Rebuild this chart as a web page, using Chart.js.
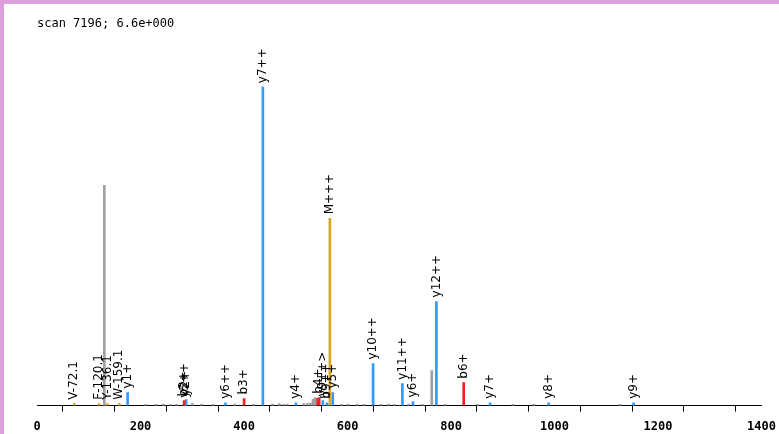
<!DOCTYPE html>
<html>
<head>
<meta charset="utf-8">
<script src="https://cdn.jsdelivr.net/npm/chart.js@4.4.1/dist/chart.umd.min.js"></script>
<style>
  html, body { margin: 0; padding: 0; background: #fff; }
  body {
    width: 779px; height: 434px; overflow: hidden; box-sizing: border-box;
    border-top: 4px solid #dda0dd; border-left: 4px solid #dda0dd;
  }
  #wrap { width: 780px; height: 430px; position: relative; }
</style>
</head>
<body>
<div id="wrap"><canvas id="spectrum"></canvas></div>
<script>
// peaks, m/z and relative intensity (y7++ = 100)
const yIonMz = [175.1, 286.2, 288.2, 364.2, 436.4, 500.3, 552.3, 560.3, 571.5, 649.4, 706.0, 726.4, 771.7, 875.5, 988.6, 1152.7];
const yIonInt = [4.1, 1.2, 1.9, 0.9, 100, 0.9, 1.6, 0.9, 4.1, 13.2, 6.9, 1.3, 32.7, 0.9, 0.9, 0.9];
const yIonLabels = ['y1+', 'y5++', 'y2+', 'y6++', 'y7++', 'y4+', 'y9++>', 'b9++', 'y5+', 'y10++', 'y11++', 'y6+', 'y12++', 'y7+', 'y8+', 'y9+'];

const bIonMz = [284.2, 400.2, 540.3, 545.3, 824.5];
const bIonInt = [1.6, 2.2, 2.3, 2.5, 7.2];
const bIonLabels = ['b2+', 'b3+', '', 'b4+', 'b6+'];

const precursorMz = [565.9];
const precursorInt = [58.8];
const precursorLabels = ['M+++'];

const immoniumMz = [72.1, 120.1, 136.1, 159.1];
const immoniumInt = [0.6, 0.6, 0.6, 0.6];
const immoniumLabels = ['V-72.1', 'F-120.1', 'Y-136.1', 'W-159.1'];

const otherMz = [130.1, 210.1, 230.2, 244.1, 258.2, 270.1, 300.2, 318.2, 340.2, 382.2, 418.2, 455.3, 468.2, 476.3, 483.2, 515.3, 522.3, 528.3, 533.3, 537.3, 588.3, 601.3, 618.3, 632.3, 664.4, 679.4, 690.4, 718.4, 744.4, 762.7, 788.4, 851.5, 919.5, 960.5, 1126.6];
const otherInt = [69.2, 0.4, 0.4, 0.5, 0.4, 0.4, 0.6, 0.5, 0.4, 0.5, 0.4, 0.5, 0.6, 0.4, 0.5, 0.6, 0.7, 0.8, 2.0, 2.5, 0.4, 0.5, 0.5, 0.4, 0.4, 0.5, 0.4, 0.5, 0.4, 11.0, 0.4, 0.4, 0.4, 0.4, 0.4];

const xTicksMax = 1400;
const scanTitle = 'scan 7196; 6.6e+000';

function peaks(mz, inten) {
    return mz.map((m, i) => ({ x: m, y: inten[i] }));
}

function peakSet(mz, inten, labels, color) {
    return {
        data: peaks(mz, inten),
        peakLabels: labels,
        backgroundColor: color,
        borderWidth: 0,
        barThickness: 2,
        grouped: false
    };
}

const peakLabelPlugin = {
    id: 'peakLabels',
    afterDatasetsDraw(chart) {
        const ctx = chart.ctx;
        ctx.save();
        ctx.font = '12px "DejaVu Sans"';
        ctx.fillStyle = '#000';
        ctx.textAlign = 'left';
        ctx.textBaseline = 'middle';
        chart.data.datasets.forEach((ds, i) => {
            if (!ds.peakLabels) return;
            chart.getDatasetMeta(i).data.forEach((bar, j) => {
                const txt = ds.peakLabels[j];
                if (!txt) return;
                ctx.save();
                ctx.translate(bar.x, bar.y - 4);
                ctx.rotate(-Math.PI / 2);
                ctx.fillText(txt, 0, 0);
                ctx.restore();
            });
        });
        ctx.restore();
    }
};

new Chart(document.getElementById('spectrum'), {
    type: 'bar',
    data: {
        datasets: [
            peakSet(otherMz, otherInt, null, '#a0a0a0'),
            peakSet(immoniumMz, immoniumInt, immoniumLabels, '#daa520'),
            peakSet(bIonMz, bIonInt, bIonLabels, '#ee2222'),
            peakSet(yIonMz, yIonInt, yIonLabels, '#3399ff'),
            peakSet(precursorMz, precursorInt, precursorLabels, '#daa520')
        ]
    },
    options: {
        responsive: true,
        maintainAspectRatio: false,
        animation: false,
        layout: { padding: { left: 33, right: 17, top: 0, bottom: -8 } },
        plugins: {
            legend: { display: false },
            tooltip: { enabled: false },
            title: {
                display: true,
                text: scanTitle,
                align: 'start',
                color: '#000',
                font: { family: 'DejaVu Sans Mono', size: 12, weight: 'normal' },
                padding: { top: 13, bottom: 8 }
            }
        },
        scales: {
            x: {
                type: 'linear',
                min: 0,
                max: xTicksMax,
                offset: false,
                border: { display: true, color: '#000', width: 1 },
                grid: { display: true, drawOnChartArea: false, drawTicks: true, tickLength: 6, color: '#000' },
                ticks: {
                    stepSize: 100,
                    autoSkip: false,
                    maxRotation: 0,
                    padding: 8,
                    color: '#000',
                    font: { family: 'DejaVu Sans Mono', size: 12, weight: 'bold' },
                    callback: v => (v % 200 === 0 ? String(v) : '')
                }
            },
            y: { display: false, min: 0, max: 115 }
        }
    },
    plugins: [peakLabelPlugin]
});
</script>
</body>
</html>
